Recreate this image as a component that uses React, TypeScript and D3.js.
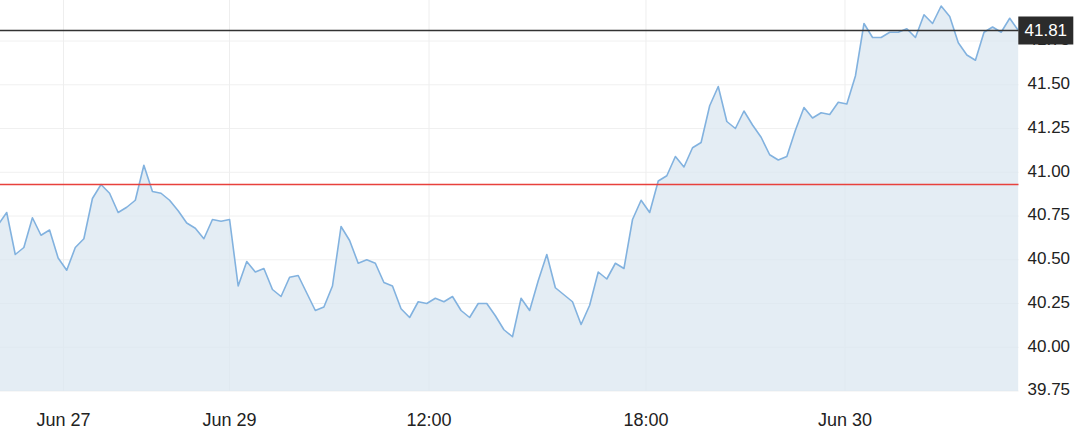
import React from "react";
import * as d3 from "d3";

const prices: number[] = [
  40.70, 40.77, 40.53, 40.57, 40.74, 40.64, 40.67, 40.51, 40.44, 40.57,
  40.62, 40.85, 40.93, 40.88, 40.77, 40.80, 40.84, 41.04, 40.89, 40.88,
  40.84, 40.78, 40.71, 40.68, 40.62, 40.73, 40.72, 40.73, 40.35, 40.49,
  40.43, 40.45, 40.33, 40.29, 40.40, 40.41, 40.31, 40.21, 40.23, 40.35,
  40.69, 40.61, 40.48, 40.50, 40.48, 40.37, 40.35, 40.22, 40.17, 40.26,
  40.25, 40.28, 40.26, 40.29, 40.21, 40.17, 40.25, 40.25, 40.18, 40.10,
  40.06, 40.28, 40.21, 40.38, 40.53, 40.34, 40.30, 40.26, 40.13, 40.24,
  40.43, 40.39, 40.48, 40.45, 40.73, 40.84, 40.77, 40.95, 40.98, 41.09,
  41.03, 41.14, 41.17, 41.38, 41.49, 41.29, 41.25, 41.35, 41.27, 41.20,
  41.10, 41.07, 41.09, 41.24, 41.37, 41.31, 41.34, 41.33, 41.40, 41.39,
  41.55, 41.85, 41.77, 41.77, 41.80, 41.80, 41.82, 41.77, 41.90, 41.85,
  41.95, 41.89, 41.74, 41.67, 41.64, 41.80, 41.83, 41.80, 41.88, 41.81,
];

const yTicks: number[] = [39.75, 40.0, 40.25, 40.5, 40.75, 41.0, 41.25, 41.5, 41.75];
const xTickLabels: string[] = ["Jun 27", "Jun 29", "12:00", "18:00", "Jun 30"];
const xTickIndex: number[] = [7.62, 26.99, 50.26, 75.57, 98.78];
const previousClose = 40.93;
const lastPrice = prices[prices.length - 1];

const W = 1080;
const H = 446;
const plotRight = 1018.5;
const plotBottom = 391;
const FONT = "'Liberation Sans', Arial, Helvetica, sans-serif";

export default function App() {
  const x = d3.scaleLinear().domain([0, prices.length - 1]).range([-1.87, 1018.3]);
  const y = d3.scaleLinear().domain([39.75, 40.75]).range([plotBottom, plotBottom - 175]);

  const line = d3
    .line<number>()
    .x((_, i) => x(i))
    .y((d) => y(d));
  const area = d3
    .area<number>()
    .x((_, i) => x(i))
    .y0(plotBottom)
    .y1((d) => y(d));

  return (
    <svg
      width={W}
      height={H}
      style={{ position: "absolute", left: 0, top: 0, background: "#fff" }}
      fontFamily={FONT}
    >
      <defs>
        <clipPath id="plot">
          <rect x={0} y={0} width={plotRight} height={plotBottom} />
        </clipPath>
      </defs>
      {/* grid */}
      {yTicks.map((t) => (
        <line key={"gy" + t} x1={0} x2={plotRight} y1={y(t)} y2={y(t)} stroke="#f0f0f0" strokeWidth={1} />
      ))}
      {xTickIndex.map((t, i) => (
        <line key={"gx" + i} x1={x(t)} x2={x(t)} y1={0} y2={plotBottom} stroke="#eeeeee" strokeWidth={1} />
      ))}
      <g clipPath="url(#plot)">
        <path d={area(prices) || ""} fill="#dbe7f0" fillOpacity={0.75} />
        <path d={line(prices) || ""} fill="none" stroke="#82b2df" strokeWidth={1.6} strokeLinejoin="round" />
      </g>
      {/* previous close */}
      <line x1={0} x2={plotRight} y1={y(previousClose)} y2={y(previousClose)} stroke="#e8413c" strokeWidth={1.3} />
      {/* last price */}
      <line x1={0} x2={plotRight} y1={y(lastPrice)} y2={y(lastPrice)} stroke="#333" strokeWidth={1.3} />
      {/* y axis labels */}
      {yTicks.map((t) => (
        <text key={"yl" + t} x={1027.5} y={y(t) - 1.5} dy="0.35em" fontSize={17} fill="#222">
          {t.toFixed(2)}
        </text>
      ))}
      {/* x axis labels */}
      {xTickLabels.map((lab, i) => (
        <text key={"xl" + i} x={x(xTickIndex[i])} y={420} dy="0.35em" fontSize={18} fill="#222" textAnchor="middle">
          {lab}
        </text>
      ))}
      {/* last price label */}
      <rect x={1018.3} y={y(lastPrice) - 14} width={55} height={28} fill="#2b2b2b" />
      <text x={1045.8} y={y(lastPrice)} dy="0.35em" fontSize={17} fill="#fff" textAnchor="middle">
        {lastPrice.toFixed(2)}
      </text>
    </svg>
  );
}
